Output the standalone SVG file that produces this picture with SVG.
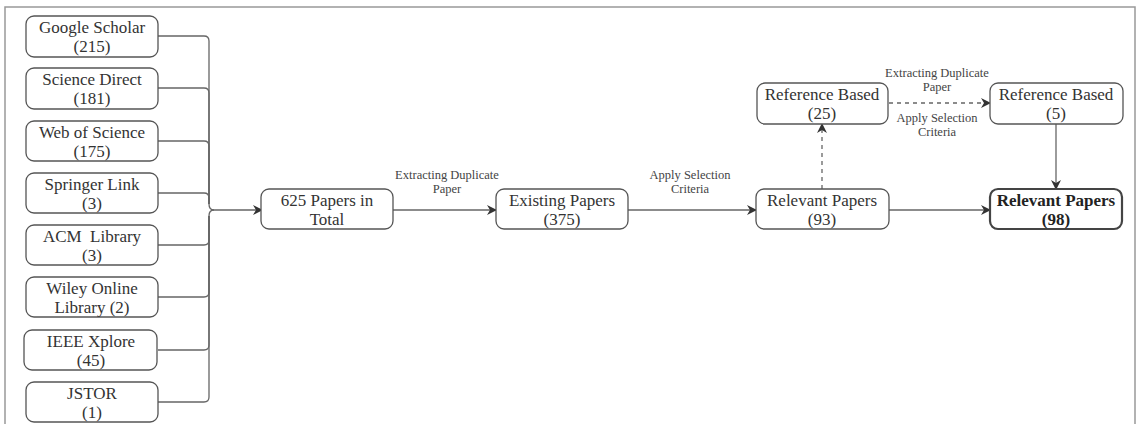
<svg xmlns="http://www.w3.org/2000/svg" width="1136" height="424" viewBox="0 0 1136 424">
<defs>
<style>
.box{fill:#fff;stroke:#555;stroke-width:1.3}
.bold{fill:#fff;stroke:#444;stroke-width:2.2}
.t{font-family:"Liberation Serif",serif;font-size:17px;fill:#333;text-anchor:middle}
.tb{font-family:"Liberation Serif",serif;font-size:17px;fill:#222;text-anchor:middle;font-weight:bold}
.l{font-family:"Liberation Serif",serif;font-size:12.5px;fill:#444;text-anchor:middle}
.c{fill:none;stroke:#666;stroke-width:1.3}
.d{fill:none;stroke:#666;stroke-width:1.3;stroke-dasharray:4 4}
</style>
<marker id="ah" viewBox="0 0 10 10" refX="9" refY="5" markerWidth="10" markerHeight="10" markerUnits="userSpaceOnUse" orient="auto">
<path d="M0,0 L10,5 L0,10 L3,5 Z" fill="#333"/>
</marker>
</defs>
<rect width="1136" height="424" fill="#fff"/>
<path d="M5,424 V7 H1135 V424" fill="none" stroke="#999" stroke-width="1.5"/>

<g id="connectors">
<path class="c" d="M158,36 H204 Q209,36 209,41 V204 Q209,210 214,210 H262" marker-end="url(#ah)"/>
<path class="c" d="M158,88 H204 Q209,88 209,93 V204"/>
<path class="c" d="M158,141 H204 Q209,141 209,146 V204"/>
<path class="c" d="M158,193 H204 Q209,193 209,198 V204"/>
<path class="c" d="M158,245 H204 Q209,245 209,240 V216 Q209,210 214,210"/>
<path class="c" d="M158,297 H204 Q209,297 209,292 V216"/>
<path class="c" d="M158,350 H204 Q209,350 209,345 V216"/>
<path class="c" d="M158,402 H204 Q209,402 209,397 V216"/>
<path class="c" d="M393,210 H496" marker-end="url(#ah)"/>
<path class="c" d="M628,210 H756" marker-end="url(#ah)"/>
<path class="c" d="M889,210 H990" marker-end="url(#ah)"/>
<path class="d" d="M822,189 V124" marker-end="url(#ah)"/>
<path class="d" d="M889,103 H990" marker-end="url(#ah)"/>
<path class="c" d="M1056,124 V189" marker-end="url(#ah)"/>
<text class="l" x="447" y="179">Extracting Duplicate</text>
<text class="l" x="447" y="193">Paper</text>
<text class="l" x="690" y="179">Apply Selection</text>
<text class="l" x="690" y="193">Criteria</text>
<text class="l" x="937" y="77">Extracting Duplicate</text>
<text class="l" x="937" y="91">Paper</text>
<text class="l" x="937" y="122">Apply Selection</text>
<text class="l" x="937" y="136">Criteria</text>
</g>

<g id="google"><rect class="box" x="26" y="16" width="132" height="41" rx="8"/><text class="t" x="92" y="33">Google Scholar</text><text class="t" x="92" y="52">(215)</text></g>
<g id="sciencedirect"><rect class="box" x="26" y="68" width="132" height="41" rx="8"/><text class="t" x="92" y="85">Science Direct</text><text class="t" x="92" y="104">(181)</text></g>
<g id="wos"><rect class="box" x="26" y="121" width="132" height="40" rx="8"/><text class="t" x="92" y="138">Web of Science</text><text class="t" x="92" y="157">(175)</text></g>
<g id="springer"><rect class="box" x="26" y="173" width="132" height="40" rx="8"/><text class="t" x="92" y="190">Springer Link</text><text class="t" x="92" y="209">(3)</text></g>
<g id="acm"><rect class="box" x="26" y="225" width="132" height="40" rx="8"/><text class="t" x="92" y="242" xml:space="preserve">ACM  Library</text><text class="t" x="92" y="261">(3)</text></g>
<g id="wiley"><rect class="box" x="26" y="277" width="132" height="40" rx="8"/><text class="t" x="92" y="294">Wiley Online</text><text class="t" x="92" y="313">Library (2)</text></g>
<g id="ieee"><rect class="box" x="24" y="330" width="133" height="40" rx="8"/><text class="t" x="91" y="347">IEEE Xplore</text><text class="t" x="91" y="366">(45)</text></g>
<g id="jstor"><rect class="box" x="26" y="382" width="132" height="40" rx="8"/><text class="t" x="92" y="399">JSTOR</text><text class="t" x="92" y="418">(1)</text></g>

<g id="total"><rect class="box" x="261" y="189" width="132" height="40" rx="8"/><text class="t" x="327" y="206">625 Papers in</text><text class="t" x="327" y="225">Total</text></g>
<g id="existing"><rect class="box" x="496" y="189" width="132" height="40" rx="8"/><text class="t" x="562" y="206">Existing Papers</text><text class="t" x="562" y="225">(375)</text></g>
<g id="relevant93"><rect class="box" x="756" y="189" width="133" height="40" rx="8"/><text class="t" x="822" y="206">Relevant Papers</text><text class="t" x="822" y="225">(93)</text></g>
<g id="ref25"><rect class="box" x="757" y="83" width="131" height="41" rx="8"/><text class="t" x="822" y="100">Reference Based</text><text class="t" x="822" y="119">(25)</text></g>
<g id="ref5"><rect class="box" x="990" y="83" width="133" height="41" rx="8"/><text class="t" x="1056" y="100">Reference Based</text><text class="t" x="1056" y="119">(5)</text></g>
<g id="relevant98"><rect class="bold" x="990" y="189" width="132" height="40" rx="8"/><text class="tb" x="1056" y="206">Relevant Papers</text><text class="tb" x="1056" y="225">(98)</text></g>
</svg>
